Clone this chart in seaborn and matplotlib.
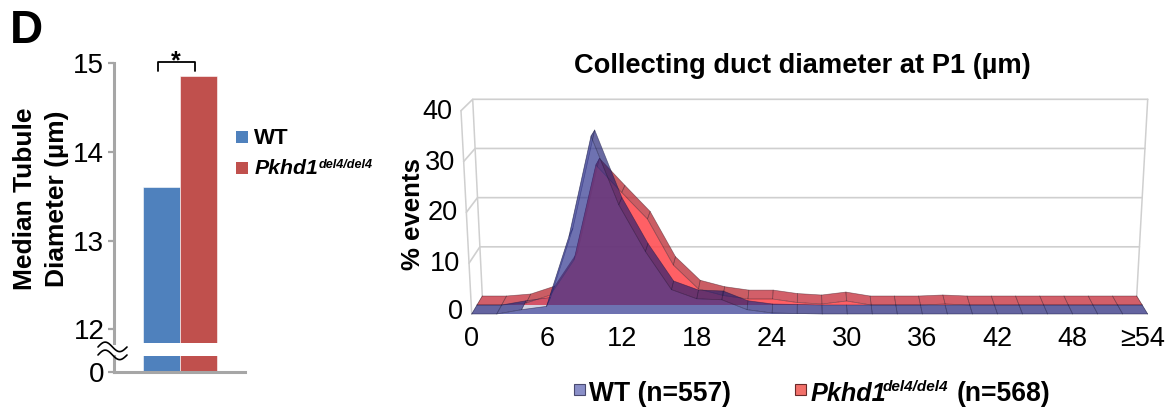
import matplotlib
matplotlib.use('Agg')
import matplotlib.pyplot as plt
import seaborn as sns
import pandas as pd
import numpy as np

WIDTH, HEIGHT = 1170, 409

# left panel, median diameter
genotypes = ['WT', 'Pkhd1']
medians = [13.6, 14.85]
bar_colors = ['#4f81bd', '#c0504d']
left_ticks = [12, 13, 14, 15]

# right panel, % events at each 2 um bin
wt_events = [0, 0, 0.85, 1.5, 15.3, 35, 21.5, 12.3, 4.8, 3, 2.8, 0.85, 0.2, 0.1,
             0, 0, 0, 0, 0, 0, 0, 0, 0, 0, 0, 0, 0, 0]
ko_events = [0, 0, 0.4, 2, 9, 28, 22.5, 17.2, 8, 3.2, 1.9, 1.2, 1.2, 0.5,
             0.2, 0.8, 0, 0, 0, 0.2, 0, 0, 0, 0, 0, 0, 0, 0]
right_yticks = [0, 10, 20, 30, 40]
right_xticks = ['0', '6', '12', '18', '24', '30', '36', '42', '48', '≥54']

sns.set_style('white')
plt.rcParams['font.family'] = ['Liberation Sans', 'DejaVu Sans']
plt.rcParams['text.color'] = 'black'
plt.rcParams['ytick.labelcolor'] = 'black'


def box(left, top, right, bottom):
    return [left / WIDTH, 1 - bottom / HEIGHT, (right - left) / WIDTH, (bottom - top) / HEIGHT]


def project(i, depth, value):
    """Oblique view of the 3D area chart, bin index / depth / value to pixels."""
    u = i / 27
    v = value / 40
    front_x = (471.7 - 10.7 * v) * (1 - u) + (1147.7 + 10.7 * v) * u
    back_x = (482.3 - 9.6 * v) * (1 - u) + (1136.7 + 11 * v) * u
    front_y = 314 - 203.3 * v
    back_y = 296 - 196.7 * v
    return front_x + (back_x - front_x) * depth, front_y + (back_y - front_y) * depth


def ribbon(ax, values, d0, d1, face, face_alpha, top, top_alpha, flat, flat_alpha, edge, rise, z):
    idx = np.arange(len(values))
    # top surface first, cell by cell. flat cells read lighter
    for i in idx[:-1]:
        pts = [project(i, d1, values[i]), project(i + 1, d1, values[i + 1]),
               project(i + 1, d0, values[i + 1]), project(i, d0, values[i])]
        xs, ys = zip(*pts)
        step = values[i + 1] - values[i]
        if abs(step) < 2.5 and max(values[i], values[i + 1]) < 1.5:
            ax.fill(xs, ys, color=flat, alpha=flat_alpha, lw=0, zorder=z)
        elif step > 0:
            ax.fill(xs, ys, color=top, alpha=top_alpha * rise, lw=0, zorder=z)
        else:
            ax.fill(xs, ys, color=top, alpha=top_alpha, lw=0, zorder=z)
    for i in idx:
        p0 = project(i, d0, values[i])
        p1 = project(i, d1, values[i])
        ax.plot([p0[0], p1[0]], [p0[1], p1[1]], color=edge, lw=0.5, alpha=0.7, zorder=z + 0.01)
    line = [project(i, d1, values[i]) for i in idx]
    ax.plot(*zip(*line), color=edge, lw=0.5, alpha=0.5, zorder=z + 0.01)
    # front face
    front = [project(i, d0, values[i]) for i in idx]
    floor = [project(i, d0, 0) for i in idx[::-1]]
    xs, ys = zip(*(front + floor))
    ax.fill(xs, ys, color=face, alpha=face_alpha, lw=0, zorder=z + 0.02)
    ax.plot(*zip(*front), color=edge, lw=0.5, alpha=0.6, zorder=z + 0.03)


fig = plt.figure(figsize=(WIDTH / 100, HEIGHT / 100), dpi=100)

# Left bars, broken axis
df = pd.DataFrame({'group': ['median'] * 2, 'value': medians, 'genotype': genotypes})
ax_top = fig.add_axes(box(114, 63, 245, 342.7))
ax_low = fig.add_axes(box(114, 356, 245, 371.7))
for ax in [ax_top, ax_low]:
    sns.barplot(data=df, x='group', y='value', hue='genotype', palette=bar_colors, saturation=1,
                width=0.8, legend=False, edgecolor='white', linewidth=0.4, ax=ax)
    ax.set_xlim(-0.719, 0.708)
    ax.set_xlabel('')
    ax.set_ylabel('')
    ax.set_xticks([])
    for side in ['top', 'right']:
        ax.spines[side].set_visible(False)
    ax.spines['left'].set_color('#a6a6a6')
    ax.spines['left'].set_linewidth(2.2)
    ax.patch.set_alpha(0)
ax_top.spines['bottom'].set_visible(False)
ax_top.set_ylim(11.85, 15)
ax_top.set_yticks(left_ticks)
ax_low.set_ylim(0, 1)
ax_low.set_yticks([0])
ax_low.spines['bottom'].set_color('#a6a6a6')
ax_low.spines['bottom'].set_linewidth(2.2)
for ax in [ax_top, ax_low]:
    ax.tick_params(axis='y', left=True, length=4, width=1.6, color='#a6a6a6', labelsize=20, pad=3)

# Everything else is placed on a pixel canvas
canvas = fig.add_axes([0, 0, 1, 1], zorder=5)
canvas.set_xlim(0, WIDTH)
canvas.set_ylim(HEIGHT, 0)
canvas.axis('off')

canvas.text(10, 31, 'D', fontsize=33, fontweight='bold', ha='left', va='center')
canvas.text(25, 199, 'Median Tubule', rotation=90, fontsize=19, fontweight='bold', ha='center', va='center')
canvas.text(57, 199, 'Diameter (µm)', rotation=90, fontsize=19, fontweight='bold', ha='center', va='center')

# significance bracket
canvas.plot([158, 158, 194.5, 194.5], [70.5, 62, 62, 70.5], color='black', lw=1.3)
canvas.text(176, 61, '*', fontsize=18, fontweight='bold', ha='center', va='center')

# axis break
wave = np.linspace(0, 1, 40)
for off in [0, 8]:
    wx = 98 + 29 * wave
    wy = 347 + off - 5 * np.sin(2 * np.pi * wave) * (1 - 0.1 * wave)
    canvas.plot(wx, wy, color='black', lw=1.2)

# left legend
canvas.add_patch(plt.Rectangle((236, 131), 12, 12, color=bar_colors[0], lw=0))
canvas.add_patch(plt.Rectangle((236, 162), 12, 12, color=bar_colors[1], lw=0))
canvas.text(254, 139, 'WT', fontsize=16, fontweight='bold', va='center')
canvas.text(255, 169, 'Pkhd1', fontsize=15.3, fontweight='bold', fontstyle='italic', va='center')
canvas.text(319, 165, 'del4/del4', fontsize=9.1, fontweight='bold', fontstyle='italic', va='center')

# 3D area chart, back wall and side wall
grid_color = '#cfcfcf'
for val in right_yticks:
    back_l = project(0, 1, val)
    back_r = project(27, 1, val)
    front_l = project(0, 0, val)
    if val > 0:
        canvas.plot([front_l[0], back_l[0], back_r[0]], [front_l[1], back_l[1], back_r[1]],
                    color=grid_color, lw=1.2, zorder=0.5)
    canvas.text(front_l[0] - 9, front_l[1] + (1 if val else -2), str(val), fontsize=19.5, ha='right', va='center')
canvas.plot(*zip(project(0, 0, 0), project(0, 0, 40)), color=grid_color, lw=1.1, zorder=0.5)
canvas.plot(*zip(project(0, 1, 0), project(0, 1, 40)), color=grid_color, lw=1.1, zorder=0.5)
canvas.plot(*zip(project(27, 1, 0), project(27, 1, 40)), color=grid_color, lw=1.1, zorder=0.5)

ribbon(canvas, ko_events, 0.5, 1, '#ff4a50', 0.88, '#bb3038', 0.78, '#ca434f', 0.85, '#3a1420', 1, 1)
ribbon(canvas, wt_events, 0, 0.5, '#2a2f8c', 0.68, '#1c1c70', 0.66, '#303080', 0.75, '#14143c', 0.3, 1.2)

for k, lab in enumerate(right_xticks):
    x = project(k * 3, 0, 0)[0]
    if lab == '≥54':
        x -= 5
    canvas.text(x, 339, lab, fontsize=19.5, ha='center', va='center')

canvas.text(802, 66, 'Collecting duct diameter at P1 (µm)', fontsize=19.6, fontweight='bold', ha='center', va='center')
canvas.text(413, 214, '% events', rotation=90, fontsize=18.5, fontweight='bold', ha='center', va='center')

# bottom legend
canvas.add_patch(plt.Rectangle((573.5, 383.5), 11, 11, facecolor='#8a8fc8', edgecolor='#4a4a70', lw=0.8))
canvas.add_patch(plt.Rectangle((794.5, 383.5), 11, 11, facecolor='#f2706a', edgecolor='#6a2a2a', lw=0.8))
canvas.text(589, 394, 'WT (n=557)', fontsize=19.1, fontweight='bold', va='center')
canvas.text(811, 394, 'Pkhd1', fontsize=18.2, fontweight='bold', fontstyle='italic', va='center')
canvas.text(883, 387, 'del4/del4', fontsize=11.1, fontweight='bold', fontstyle='italic', va='center')
canvas.text(957, 394, '(n=568)', fontsize=19.1, fontweight='bold', va='center')

fig.savefig('out.png', dpi=100)
plt.close()
